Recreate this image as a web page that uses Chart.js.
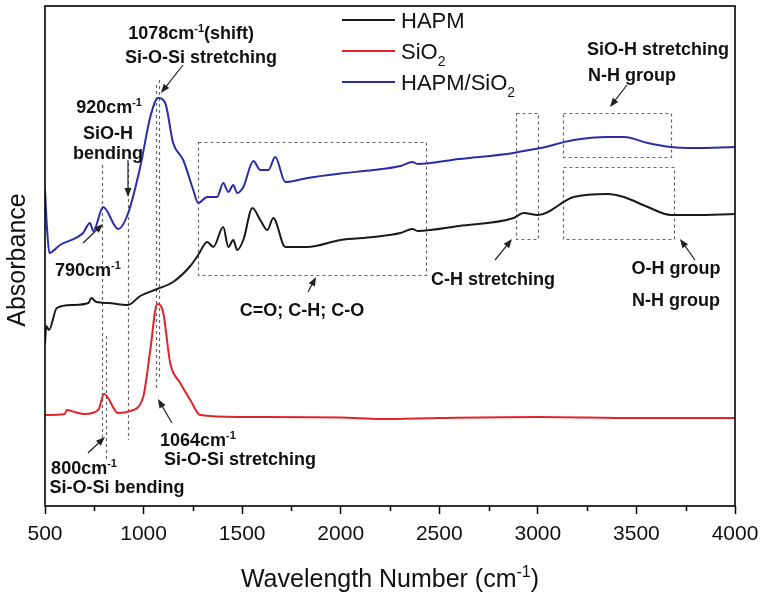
<!DOCTYPE html>
<html>
<head>
<meta charset="utf-8">
<script src="https://cdn.jsdelivr.net/npm/chart.js@4.4.0/dist/chart.umd.min.js"></script>
<style>
  body { margin: 0; background: #fff; }
  canvas { display: block; }
</style>
</head>
<body>
<canvas id="ftirChart" width="763" height="594"></canvas>
<script>
// FTIR spectra, absorbance in arbitrary units (0-100 frame height)
const waveHAPM = [500, 506, 520, 560, 640, 720, 735, 760, 820, 920, 983, 1069, 1150, 1237, 1277, 1323, 1354, 1404, 1430, 1455, 1475, 1506, 1552, 1592, 1628, 1658, 1719, 1831, 1999, 2166, 2303, 2364, 2390, 2600, 2877, 2928, 3000, 3182, 3355, 3436, 3558, 3675, 3792, 4000];
const absHAPM = [32.5, 36.0, 35.2, 39.6, 40.2, 40.6, 41.6, 40.8, 40.6, 40.2, 42.0, 43.4, 44.8, 48.0, 50.2, 52.8, 51.8, 55.8, 51.8, 53.2, 51.2, 53.2, 59.6, 57.2, 55.2, 57.6, 51.8, 51.8, 53.2, 53.8, 54.6, 55.4, 55.0, 56.0, 57.6, 58.6, 58.2, 61.8, 62.4, 61.8, 59.8, 58.2, 58.2, 58.4];

const waveSiO2 = [500, 600, 610, 650, 700, 770, 800, 871, 932, 998, 1034, 1069, 1100, 1135, 1186, 1237, 1287, 1490, 2000, 2200, 2500, 3000, 3500, 4000];
const absSiO2 = [18.2, 18.4, 19.2, 18.8, 18.4, 19.2, 22.4, 18.6, 19.0, 21.8, 31.2, 40.4, 38.6, 28.6, 24.6, 21.2, 18.2, 17.8, 17.7, 17.4, 17.6, 17.8, 17.6, 17.6];

const waveBlend = [500, 508, 522, 576, 693, 728, 745, 795, 871, 922, 983, 1034, 1074, 1110, 1150, 1201, 1252, 1277, 1323, 1373, 1404, 1430, 1455, 1475, 1506, 1557, 1592, 1633, 1668, 1719, 1831, 2000, 2166, 2303, 2364, 2390, 2600, 2877, 2928, 3014, 3182, 3355, 3436, 3558, 3675, 3792, 4000];
const absBlend = [63.2, 57.0, 50.6, 52.2, 54.6, 56.6, 55.0, 59.8, 55.4, 58.6, 67.8, 77.8, 81.6, 80.6, 72.6, 69.2, 63.2, 60.6, 61.8, 61.8, 64.6, 62.8, 64.2, 62.6, 63.8, 69.0, 67.2, 67.2, 69.8, 64.8, 65.6, 66.5, 67.2, 68.0, 68.8, 68.4, 69.4, 70.6, 71.0, 71.6, 73.2, 73.8, 73.8, 72.6, 71.8, 71.6, 71.8];

const seriesNames = ['HAPM', 'SiO_{2}', 'HAPM/SiO_{2}'];
const xTicks = [500, 1000, 1500, 2000, 2500, 3000, 3500, 4000];
const xMinorTicks = [750, 1250, 1750, 2250, 2750, 3250, 3750];

// annotations in data coordinates
const markLines = [ // [wavenumber, yFrom, yTo]
  [790, 68.2, 13.2],
  [810, 34.0, 9.4],
  [920, 68.6, 13.2],
  [1064, 84.2, 23.2],
  [1078, 85.2, 25.2]
];
const markBoxes = [ // [w1, w2, y1, y2]
  [1276, 2433, 72.8, 46.2],
  [2889, 3001, 78.6, 53.4],
  [3128, 3675, 78.6, 69.8],
  [3128, 3691, 67.8, 53.4]
];
const markArrows = [ // [w1, y1, w2, y2] head at the second point
  [1200, 88.2, 1088, 82.6],
  [921, 69.2, 921, 61.8],
  [693, 52.6, 794, 56.4],
  [1834, 42.8, 1875, 45.8],
  [2783, 49.2, 2869, 53.4],
  [3452, 84.2, 3366, 79.8],
  [3797, 49.2, 3721, 53.4],
  [718, 10.6, 804, 13.8],
  [1144, 16.6, 1073, 21.4]
];
const markTexts = [ // [text, w, y]
  ['1078cm^{-1}(shift)', 1241, 94.6],
  ['Si-O-Si stretching', 1291, 89.8],
  ['920cm^{-1}', 825, 79.8],
  ['SiO-H', 820, 74.6],
  ['bending', 820, 70.6],
  ['790cm^{-1}', 718, 47.2],
  ['800cm^{-1}', 698, 7.6],
  ['Si-O-Si bending', 865, 3.8],
  ['1064cm^{-1}', 1276, 13.2],
  ['Si-O-Si stretching', 1489, 9.4],
  ['C=O; C-H; C-O', 1804, 39.2],
  ['C-H stretching', 2773, 45.4],
  ['SiO-H stretching', 3609, 91.4],
  ['N-H group', 3478, 86.2],
  ['O-H group', 3701, 47.6],
  ['N-H group', 3701, 41.2]
];

const FONT = '"Liberation Sans", Arial, sans-serif';

function toPoints(xs, ys) {
  return xs.map((x, i) => ({ x: x, y: ys[i] }));
}

function parseRich(s) {
  const parts = [];
  const re = /([\^_])\{([^}]*)\}/g;
  let last = 0, m;
  while ((m = re.exec(s))) {
    if (m.index > last) parts.push({ t: s.slice(last, m.index), k: '' });
    parts.push({ t: m[2], k: m[1] });
    last = re.lastIndex;
  }
  if (last < s.length) parts.push({ t: s.slice(last), k: '' });
  return parts;
}

// y is the middle of the capital letters
function drawRich(ctx, s, x, y, size, weight, align) {
  const parts = parseRich(s);
  const fontFor = k => weight + ' ' + (k ? Math.round(size * 0.62) : size) + 'px ' + FONT;
  let w = 0;
  parts.forEach(p => { ctx.font = fontFor(p.k); p.w = ctx.measureText(p.t).width; w += p.w; });
  let cx = align === 'center' ? x - w / 2 : (align === 'right' ? x - w : x);
  const base = y + size * 0.36;
  ctx.textAlign = 'left';
  ctx.textBaseline = 'alphabetic';
  parts.forEach(p => {
    ctx.font = fontFor(p.k);
    const dy = p.k === '^' ? -size * 0.4 : (p.k === '_' ? size * 0.3 : 0);
    ctx.fillText(p.t, cx, base + dy);
    cx += p.w;
  });
}

function drawArrow(ctx, x1, y1, x2, y2) {
  const a = Math.atan2(y2 - y1, x2 - x1), L = 9, W = 3.5;
  ctx.beginPath();
  ctx.moveTo(x1, y1);
  ctx.lineTo(x2 - L * 0.6 * Math.cos(a), y2 - L * 0.6 * Math.sin(a));
  ctx.stroke();
  ctx.beginPath();
  ctx.moveTo(x2, y2);
  ctx.lineTo(x2 - L * Math.cos(a) + W * Math.sin(a), y2 - L * Math.sin(a) - W * Math.cos(a));
  ctx.lineTo(x2 - L * Math.cos(a) - W * Math.sin(a), y2 - L * Math.sin(a) + W * Math.cos(a));
  ctx.closePath();
  ctx.fill();
}

const notesPlugin = {
  id: 'ftirNotes',
  beforeDatasetsDraw(chart) {
    const ctx = chart.ctx, xs = chart.scales.x, ys = chart.scales.y;
    ctx.save();
    ctx.strokeStyle = '#666';
    ctx.lineWidth = 1.2;
    ctx.setLineDash([3, 3]);
    markLines.forEach(([w, y1, y2]) => {
      const px = Math.round(xs.getPixelForValue(w)) + 0.5;
      ctx.beginPath();
      ctx.moveTo(px, ys.getPixelForValue(y1));
      ctx.lineTo(px, ys.getPixelForValue(y2));
      ctx.stroke();
    });
    markBoxes.forEach(([w1, w2, y1, y2]) => {
      const l = Math.round(xs.getPixelForValue(w1)) + 0.5, r = Math.round(xs.getPixelForValue(w2)) + 0.5;
      const t = Math.round(ys.getPixelForValue(y1)) + 0.5, b = Math.round(ys.getPixelForValue(y2)) + 0.5;
      ctx.strokeRect(l, t, r - l, b - t);
    });
    ctx.restore();
  },
  afterDatasetsDraw(chart) {
    const ctx = chart.ctx, xs = chart.scales.x, ys = chart.scales.y;
    ctx.save();
    ctx.strokeStyle = '#222';
    ctx.fillStyle = '#222';
    ctx.lineWidth = 1.2;
    markArrows.forEach(([w1, y1, w2, y2]) => {
      drawArrow(ctx, xs.getPixelForValue(w1), ys.getPixelForValue(y1), xs.getPixelForValue(w2), ys.getPixelForValue(y2));
    });
    ctx.fillStyle = '#111';
    markTexts.forEach(([t, w, y]) => {
      drawRich(ctx, t, xs.getPixelForValue(w), ys.getPixelForValue(y), 18, 'bold', 'center');
    });
    ctx.restore();
  },
  afterDraw(chart) {
    const ctx = chart.ctx, area = chart.chartArea, xs = chart.scales.x;
    ctx.save();
    // frame
    ctx.strokeStyle = '#000';
    ctx.lineWidth = 1.6;
    ctx.strokeRect(area.left, area.top, area.right - area.left, area.bottom - area.top);
    // minor ticks
    ctx.lineWidth = 1.5;
    xMinorTicks.forEach(v => {
      const px = Math.round(xs.getPixelForValue(v)) + 0.5;
      ctx.beginPath();
      ctx.moveTo(px, area.bottom);
      ctx.lineTo(px, area.bottom + 5);
      ctx.stroke();
    });
    // legend
    const lx = area.left + 297, ly = area.top + 14;
    chart.data.datasets.forEach((ds, i) => {
      const y = ly + i * 31;
      ctx.strokeStyle = ds.borderColor;
      ctx.lineWidth = 2;
      ctx.beginPath();
      ctx.moveTo(lx, y);
      ctx.lineTo(lx + 53, y);
      ctx.stroke();
      ctx.fillStyle = '#111';
      drawRich(ctx, seriesNames[i], lx + 59, y, 22, 'normal', 'left');
    });
    // axis titles
    ctx.fillStyle = '#111';
    drawRich(ctx, 'Wavelength Number (cm^{-1})', (area.left + area.right) / 2, 578, 25, 'normal', 'center');
    ctx.save();
    ctx.translate(16, (area.top + area.bottom) / 2 + 4);
    ctx.rotate(-Math.PI / 2);
    drawRich(ctx, 'Absorbance', 0, 0, 25, 'normal', 'center');
    ctx.restore();
    ctx.restore();
  }
};

const ctx = document.getElementById('ftirChart').getContext('2d');
const ftirChart = new Chart(ctx, {
  type: 'line',
  data: {
    datasets: [
      { label: 'HAPM', data: toPoints(waveHAPM, absHAPM), borderColor: '#1a1a1a' },
      { label: 'SiO2', data: toPoints(waveSiO2, absSiO2), borderColor: '#e3222a' },
      { label: 'HAPM/SiO2', data: toPoints(waveBlend, absBlend), borderColor: '#2b2ba8' }
    ].map(ds => Object.assign(ds, { borderWidth: 2, pointRadius: 0, cubicInterpolationMode: 'monotone', fill: false }))
  },
  options: {
    responsive: false,
    animation: false,
    devicePixelRatio: 1,
    layout: { padding: { left: 45, right: 28, top: 6, bottom: 41 } },
    plugins: {
      legend: { display: false },
      tooltip: { enabled: false }
    },
    scales: {
      x: {
        type: 'linear',
        min: 500,
        max: 4000,
        afterBuildTicks: axis => { axis.ticks = xTicks.map(v => ({ value: v })); },
        afterFit: axis => {
          axis.height = 47;
          axis.paddingLeft = 0;
          axis.paddingRight = 0;
        },
        ticks: {
          color: '#111',
          padding: 8,
          maxRotation: 0,
          font: { family: FONT, size: 21 },
          callback: v => String(v)
        },
        grid: { drawOnChartArea: false, tickLength: 8, tickColor: '#000', tickWidth: 1.5 },
        border: { display: false }
      },
      y: {
        display: false,
        min: 0,
        max: 100
      }
    }
  },
  plugins: [notesPlugin]
});
</script>
</body>
</html>
